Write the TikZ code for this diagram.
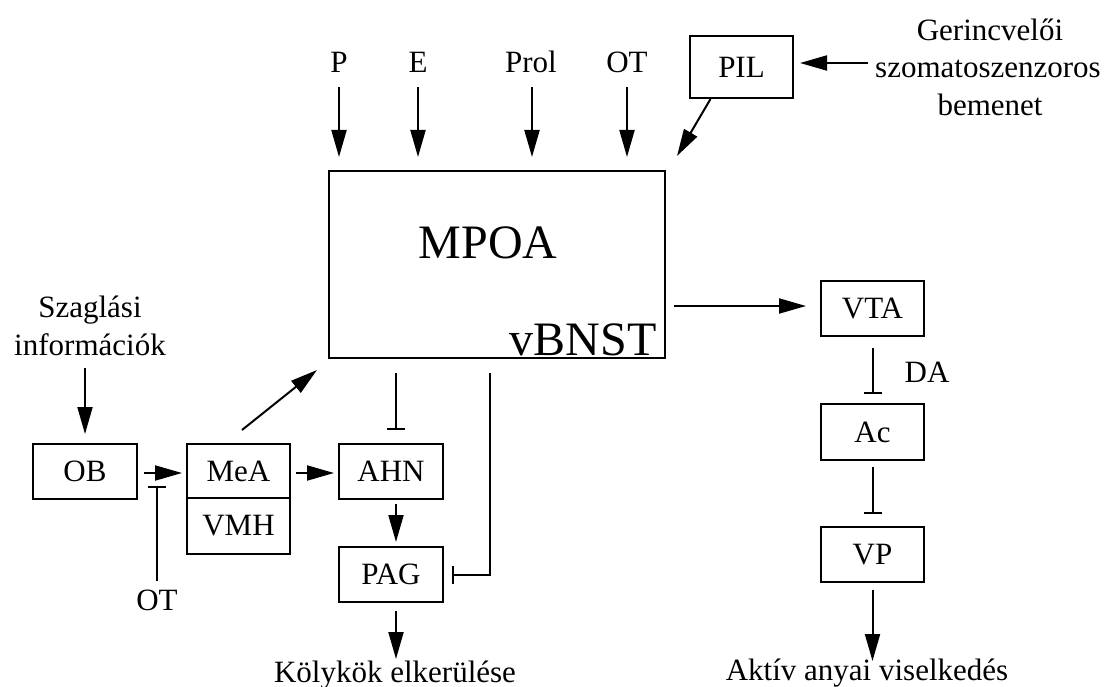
\documentclass[tikz,border=0pt]{standalone}
\usepackage{fontspec}
\setmainfont{Liberation Serif}
\usetikzlibrary{arrows.meta,calc}
\newcommand\lblfont{\fontsize{31}{38}\selectfont}
\newcommand\bigfont{\fontsize{48}{56}\selectfont}
\begin{document}
\begin{tikzpicture}[x=1pt,y=-1pt,
  box/.style={draw, line width=2pt, inner sep=0pt, minimum width=103pt, minimum height=55pt, font=\lblfont},
  lbl/.style={inner sep=0pt, anchor=base, font=\lblfont},
  arr/.style={line width=2pt, -{Triangle[length=27pt,width=15pt]}},
  inh/.style={line width=2pt, -{Bar[width=18pt]}}]
\useasboundingbox (0,0) rectangle (1110,687);
\fill[white] (0,0) rectangle (1110,687);
\coordinate (ytop) at (0,87);
\coordinate (ybot) at (0,157);
% main box
\node[draw, line width=2pt, minimum width=336pt, minimum height=187pt, inner sep=0pt] (mpoa) at (497,264.5) {};
\node[inner sep=0pt, anchor=base, font=\bigfont] (mpoat) at (488,258) {MPOA};
\node[inner sep=0pt, anchor=base, font=\bigfont] (vbnst) at (583,355) {vBNST};
% top labels
\node[lbl] (P) at (339,73) {P};
\node[lbl] (E) at (418,73) {E};
\node[lbl] (Prol) at (531,73) {Prol};
\node[lbl] (OTa) at (627,73) {OT};
\node[box, minimum height=62pt] (pil) at (741.5,67) {PIL};
\node[lbl] (ger1) at (990,41) {Gerincvelői};
\node[lbl] (ger2) at (988,78) {szomatoszenzoros};
\node[lbl] (ger3) at (990,116) {bemenet};
% right column
\node[box] (vta) at (872.5,308.5) {VTA};
\node[box, minimum height=56pt] (ac) at (872.5,432) {Ac};
\node[box] (vp) at (872.5,554.5) {VP};
\node[lbl] (da) at (927,382) {DA};
\node[lbl] (akt) at (867,680) {Aktív anyai viselkedés};
% left part
\node[lbl] (sz1) at (90,317) {Szaglási};
\node[lbl] (sz2) at (90,355) {információk};
\node[box, minimum width=104pt] (ob) at (85,471.5) {OB};
\node[box, minimum height=54pt] (mea) at (238.5,471) {MeA};
\node[box, minimum height=56pt] (vmh) at (238.5,526) {VMH};
\node[box, minimum width=104pt] (ahn) at (391,471.5) {AHN};
\node[box, minimum width=104pt] (pag) at (391,574.5) {PAG};
\node[lbl] (otb) at (157,610) {OT};
\node[lbl] (kol) at (395,682) {Kölykök elkerülése};
% connectors top
\draw[arr] (P |- ytop) -- (P |- ybot);
\draw[arr] (E |- ytop) -- (E |- ybot);
\draw[arr] ($(Prol |- ytop)+(1,0)$) -- ($(Prol |- ybot)+(1,0)$);
\draw[arr] (OTa |- ytop) -- (OTa |- ybot);
\draw[arr] ($(pil.south)+(-31,0)$) -- ($(mpoa.north east)+(11,-14)$);
\draw[arr] ($(ger2.base west)+(-7,-15)$) -- ($(pil.east)+(6,-4)$);
% right
\draw[arr] ($(mpoa.east |- vta.west)+(8,-2.5)$) -- ($(vta.west)+(-14,-2.5)$);
\draw[inh] ($(vta.south)+(0.5,11)$) -- ($(ac.north)+(0.5,-9)$);
\draw[inh] ($(ac.south)+(0.5,6)$) -- ($(vp.north)+(0.5,-12)$);
\draw[arr] ($(vp.south)+(0,7)$) -- ($(vp.south)+(0,78)$);
% left
\draw[arr] ($(ob.north |- sz2.south)+(0,12)$) -- ($(ob.north)+(0,-9)$);
\draw[arr] ($(ob.east)+(6,1.5)$) -- ($(mea.west)+(-4,2)$);
\draw[inh] ($(otb.north)+(0,-8)$) -- ($(otb.north |- ob.south)+(0,-14)$);
\draw[arr] ($(mea.north)+(3.5,-13)$) -- ($(mpoa.south west)+(-11,11)$);
\draw[arr] ($(mea.east)+(5,2)$) -- ($(ahn.west)+(-4,1.5)$);
\draw[inh] ($(ahn.north |- mpoa.south)+(5,14)$) -- ($(ahn.north)+(5,-13)$);
\draw[arr] ($(ahn.south)+(5,4)$) -- ($(pag.north)+(5,-4)$);
\draw[inh] ($(mpoa.south)+(-7,14)$) |- ($(pag.east)+(8,0)$);
\draw[arr] ($(pag.south)+(5,8)$) -- ($(pag.south)+(5,56)$);
\end{tikzpicture}
\end{document}
